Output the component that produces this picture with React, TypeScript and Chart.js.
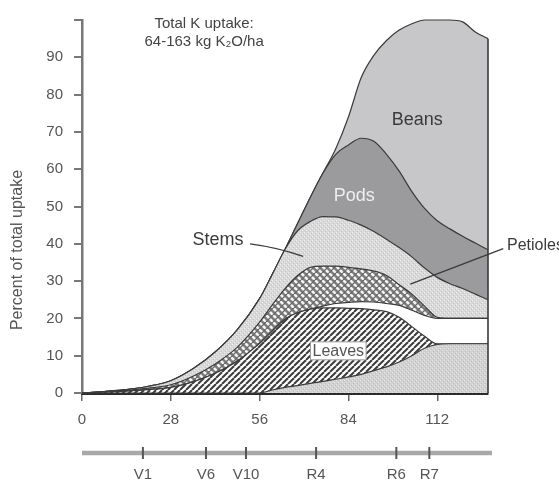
import { useEffect, useRef } from 'react';
import { Chart, registerables } from 'chart.js';

Chart.register(...registerables);

// Days after emergence
const days = [0, 7, 14, 21, 28, 35, 42, 49, 56, 60, 64, 68, 72, 76, 80, 84, 88, 92, 96, 100, 104, 108, 112, 116, 120, 124, 128];

// Share of total K uptake (%) held in each plant part, listed bottom to top
const leafLitter = [0, 0, 0, 0, 0, 0, 0, 0, 0, 0.8, 1.5, 2.0, 2.6, 3.1, 3.7, 4.3, 5.0, 6.0, 7.0, 8.3, 10, 12, 13, 13.2, 13.2, 13.2, 13.2];
const leaves = [0, 0.2, 0.5, 0.9, 1.5, 3.0, 5.3, 8.6, 13.3, 15.8, 18.3, 19.5, 19.9, 19.7, 19.1, 18.4, 17.6, 16.3, 14.8, 12.0, 7.8, 3.2, 0.2, 0, 0, 0, 0];
const petioleLitter = [0, 0, 0, 0, 0, 0, 0, 0, 0, 0, 0, 0, 0, 0.5, 1.2, 1.6, 1.9, 2.1, 2.2, 3.2, 4.4, 5.6, 6.8, 6.8, 6.8, 6.8, 6.8];
const petioles = [0, 0.1, 0.2, 0.4, 0.7, 1.5, 2.5, 3.7, 5.7, 7.0, 8.2, 10.0, 11.2, 10.7, 10.0, 9.4, 8.8, 8.3, 7.5, 5.5, 4.3, 2.5, 0.3, 0, 0, 0, 0];
const stems = [0, 0.1, 0.2, 0.5, 1.1, 2.0, 3.2, 4.7, 6.3, 8.2, 10.5, 12.0, 12.3, 13.3, 13.2, 12.6, 11.7, 10.6, 9.7, 10.0, 10.0, 10.2, 10.7, 9.3, 8.0, 6.5, 5.0];
const pods = [0, 0, 0, 0, 0, 0, 0, 0, 0, 0, 0, 2.0, 6.5, 11.7, 16.8, 20.2, 23.3, 24.2, 22.8, 20.5, 17.5, 16.0, 15.2, 14.7, 14.0, 13.7, 13.4];
const beans = [0, 0, 0, 0, 0, 0, 0, 0, 0, 0, 0, 0, 0, 0, 1.5, 7.5, 16.2, 23.0, 30.5, 37.8, 45.0, 50.5, 53.8, 56.0, 57.5, 56.6, 56.6];

const xTicks = [0, 28, 56, 84, 112];
const yTicks = [0, 10, 20, 30, 40, 50, 60, 70, 80, 90, 100];

// Growth stages along the day axis
const stageDays = [19.2, 39.1, 51.7, 73.8, 99.1, 109.5];
const stageLabels = ['V1', 'V6', 'V10', 'R4', 'R6', 'R7'];

const headerLines = ['Total K uptake:', '64-163 kg K\u2082O/ha'];
const yTitle = 'Percent of total uptake';

const FONT = '"Liberation Sans", Arial, Helvetica, sans-serif';
const EDGE = '#3a3a3a';

function makePattern(size: number, draw: (g: CanvasRenderingContext2D, s: number) => void) {
  const c = document.createElement('canvas');
  c.width = size;
  c.height = size;
  const g = c.getContext('2d') as CanvasRenderingContext2D;
  draw(g, size);
  return g.createPattern(c, 'repeat') as CanvasPattern;
}

function stipple(base: string, light: string, dark: string) {
  return makePattern(4, (g) => {
    g.fillStyle = base;
    g.fillRect(0, 0, 4, 4);
    g.fillStyle = light;
    g.fillRect(0, 0, 1, 1);
    g.fillRect(2, 2, 1, 1);
    g.fillStyle = dark;
    g.fillRect(1, 3, 1, 1);
    g.fillRect(3, 1, 1, 1);
  });
}

function diagonalHatch() {
  return makePattern(6, (g, s) => {
    g.fillStyle = '#ffffff';
    g.fillRect(0, 0, s, s);
    g.strokeStyle = '#3c3c3c';
    g.lineWidth = 2;
    for (const o of [-s, 0, s]) {
      g.beginPath();
      g.moveTo(o, s);
      g.lineTo(o + s, 0);
      g.stroke();
    }
  });
}

function crossHatch() {
  return makePattern(7, (g, s) => {
    g.fillStyle = '#7c7c7c';
    g.fillRect(0, 0, s, s);
    g.strokeStyle = '#f4f4f4';
    g.lineWidth = 2.6;
    for (const o of [-s, 0, s]) {
      g.beginPath();
      g.moveTo(o, 0);
      g.lineTo(o + s, s);
      g.stroke();
    }
    g.strokeStyle = '#6a6a6a';
    g.lineWidth = 1.3;
    for (const o of [-s, 0, s]) {
      g.beginPath();
      g.moveTo(o, s);
      g.lineTo(o + s, 0);
      g.stroke();
    }
  });
}

const annotate = {
  id: 'annotate',
  afterDraw(chart: any) {
    const { ctx, chartArea } = chart;
    const x = chart.scales.x;
    const y = chart.scales.y;
    const px = (d: number) => x.getPixelForValue(d);
    const py = (v: number) => y.getPixelForValue(v);
    const last = days.length - 1;
    const total =
      leafLitter[last] + leaves[last] + petioleLitter[last] + petioles[last] + stems[last] + pods[last] + beans[last];

    ctx.save();

    // closing edge of the stacked areas
    ctx.strokeStyle = EDGE;
    ctx.lineWidth = 1.6;
    ctx.beginPath();
    ctx.moveTo(px(days[last]), py(0));
    ctx.lineTo(px(days[last]), py(total));
    ctx.stroke();

    // header
    ctx.fillStyle = '#444';
    ctx.font = `15px ${FONT}`;
    ctx.textAlign = 'center';
    ctx.textBaseline = 'middle';
    ctx.fillText(headerLines[0], px(38.5), py(99));
    ctx.fillText(headerLines[1], px(38.5), py(94.2));

    // part labels
    ctx.font = `18px ${FONT}`;
    ctx.fillStyle = '#3a3a3a';
    ctx.fillText('Beans', px(105.7), py(73.2));
    ctx.fillStyle = '#efefef';
    ctx.fillText('Pods', px(85.8), py(52.9));
    ctx.fillStyle = '#3a3a3a';
    ctx.fillText('Stems', px(42.9), py(41));

    // leader lines
    ctx.strokeStyle = '#3a3a3a';
    ctx.lineWidth = 1.3;
    ctx.beginPath();
    ctx.moveTo(px(53), py(40));
    ctx.quadraticCurveTo(px(62), py(39), px(69.7), py(36.6));
    ctx.stroke();
    ctx.beginPath();
    ctx.moveTo(px(132.8), py(38.7));
    ctx.lineTo(px(103.5), py(29.2));
    ctx.stroke();

    ctx.font = `16px ${FONT}`;
    ctx.textAlign = 'left';
    ctx.fillStyle = '#3a3a3a';
    ctx.fillText('Petioles', px(134), py(39.6));

    // Leaves label on a white box
    ctx.font = `16px ${FONT}`;
    ctx.textAlign = 'center';
    const lw = ctx.measureText('Leaves').width;
    const lx = px(80.8);
    const ly = py(11.3);
    ctx.fillStyle = '#ffffff';
    ctx.fillRect(lx - lw / 2 - 2, ly - 9, lw + 4, 18);
    ctx.strokeStyle = '#9a9a9a';
    ctx.lineWidth = 1;
    ctx.strokeRect(lx - lw / 2 - 2, ly - 9, lw + 4, 18);
    ctx.fillStyle = '#555';
    ctx.fillText('Leaves', lx, ly + 1);

    // growth stage axis
    const sy = chartArea.bottom + 60;
    ctx.strokeStyle = '#a8a8a8';
    ctx.lineWidth = 4.5;
    ctx.beginPath();
    ctx.moveTo(chartArea.left, sy);
    ctx.lineTo(chartArea.right + 4, sy);
    ctx.stroke();
    ctx.strokeStyle = '#555';
    ctx.lineWidth = 2;
    ctx.font = `15px ${FONT}`;
    ctx.fillStyle = '#555';
    stageDays.forEach((d, i) => {
      ctx.beginPath();
      ctx.moveTo(px(d), sy - 6);
      ctx.lineTo(px(d), sy + 6);
      ctx.stroke();
      ctx.fillText(stageLabels[i], px(d), sy + 22);
    });

    // y axis title
    ctx.save();
    ctx.translate(chartArea.left - 64, chartArea.top + 230);
    ctx.rotate(-Math.PI / 2);
    ctx.font = `16px ${FONT}`;
    ctx.fillStyle = '#555';
    ctx.textAlign = 'center';
    ctx.fillText(yTitle, 0, 0);
    ctx.restore();

    ctx.restore();
  },
};

export default function App() {
  const ref = useRef<HTMLCanvasElement | null>(null);

  useEffect(() => {
    if (!ref.current) return;
    const layers = [
      { label: 'Leaf litter', data: leafLitter, fill: stipple('#d2d2d2', '#e6e6e6', '#bdbdbd') },
      { label: 'Leaves', data: leaves, fill: diagonalHatch() },
      { label: 'Petiole litter', data: petioleLitter, fill: '#ffffff' },
      { label: 'Petioles', data: petioles, fill: crossHatch() },
      { label: 'Stems', data: stems, fill: stipple('#d9d9d9', '#efefef', '#c4c4c4') },
      { label: 'Pods', data: pods, fill: '#9b9b9d' },
      { label: 'Beans', data: beans, fill: '#c7c7c9' },
    ];

    const chart = new Chart(ref.current, {
      type: 'line',
      data: {
        datasets: layers.map((l, i) => ({
          label: l.label,
          data: days.map((d, j) => ({ x: d, y: l.data[j] })),
          backgroundColor: l.fill as any,
          borderColor: EDGE,
          borderWidth: 1.2,
          pointRadius: 0,
          fill: i === 0 ? 'origin' : '-1',
          cubicInterpolationMode: 'monotone' as const,
          clip: 6,
        })),
      },
      options: {
        animation: false,
        responsive: true,
        maintainAspectRatio: false,
        layout: { padding: { left: 0, top: 13, right: 71, bottom: 0 } },
        plugins: {
          legend: { display: false },
          tooltip: { enabled: false },
        },
        scales: {
          x: {
            type: 'linear',
            min: 0,
            max: 128,
            afterBuildTicks: (s: any) => {
              s.ticks = xTicks.map((value) => ({ value }));
            },
            afterFit: (s: any) => {
              s.height = 89;
            },
            ticks: { color: '#555', font: { size: 15, family: FONT }, padding: 10, maxRotation: 0 },
            grid: { drawOnChartArea: false, drawTicks: true, tickLength: 8, color: '#666', lineWidth: 1.5 },
            border: { color: '#2a2a2a', width: 3 },
          },
          y: {
            type: 'linear',
            stacked: true,
            min: 0,
            max: 100,
            afterBuildTicks: (s: any) => {
              s.ticks = yTicks.map((value) => ({ value }));
            },
            afterFit: (s: any) => {
              s.width = 82;
            },
            ticks: {
              color: '#555',
              font: { size: 15, family: FONT },
              padding: 11,
              callback: (v: any) => (v === 100 ? '' : String(v)),
            },
            grid: { drawOnChartArea: false, drawTicks: true, tickLength: 8, color: '#777', lineWidth: 2 },
            border: { color: '#777', width: 2.5 },
          },
        },
      },
      plugins: [annotate],
    });

    return () => chart.destroy();
  }, []);

  return (
    <div style={{ position: 'absolute', left: 0, top: 0, width: 559, height: 482, background: '#fff' }}>
      <canvas ref={ref} />
    </div>
  );
}
